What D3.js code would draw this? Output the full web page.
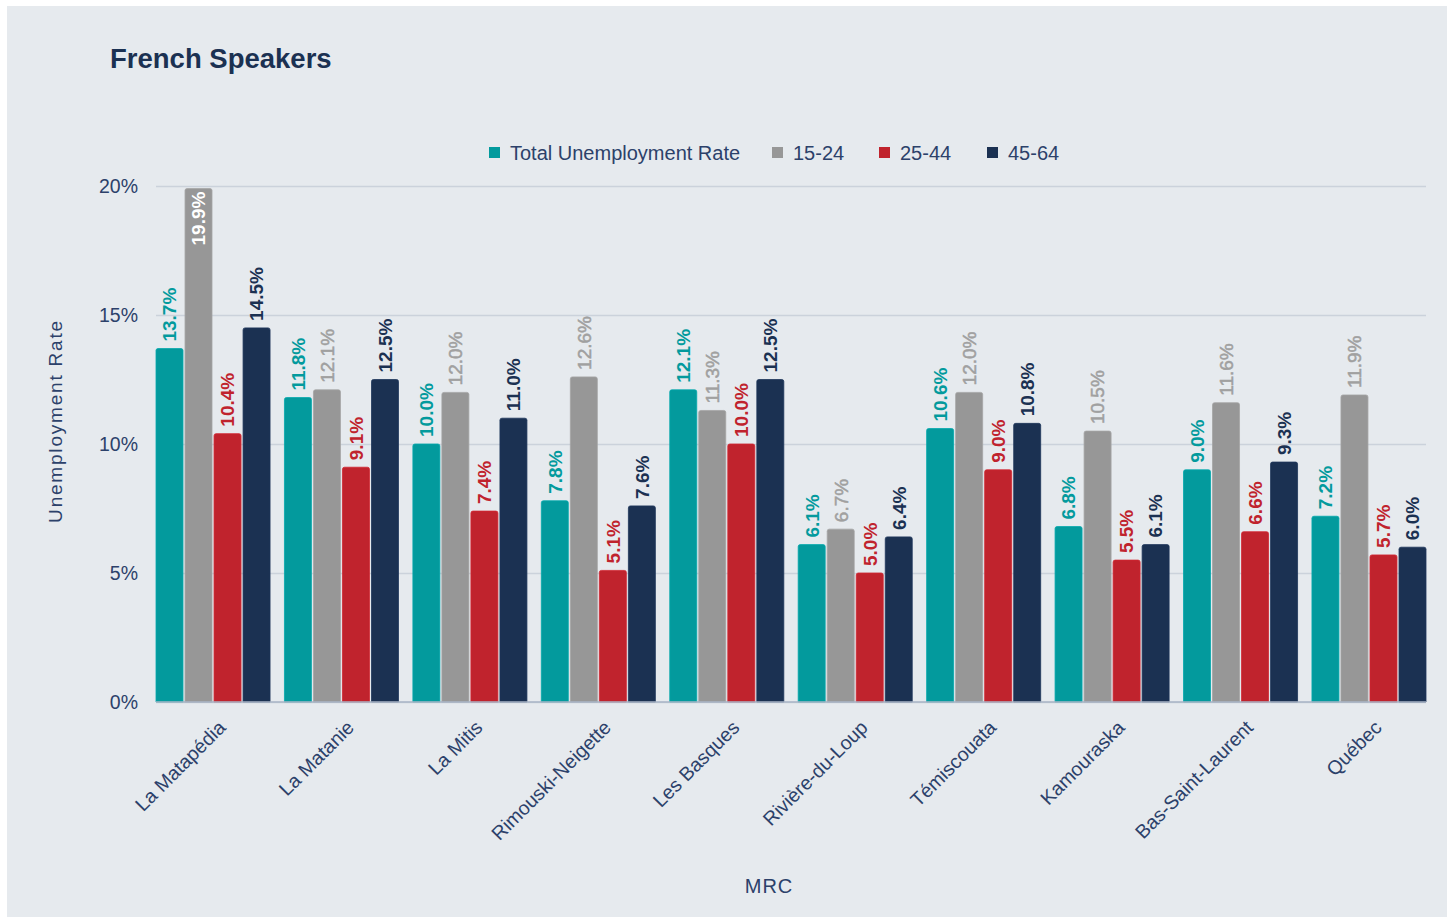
<!DOCTYPE html>
<html>
<head>
<meta charset="utf-8">
<script src="https://cdn.jsdelivr.net/npm/d3@7"></script>
<style>
  html, body { margin: 0; padding: 0; background: #ffffff; }
  svg { display: block; font-family: "Liberation Sans", Arimo, "Helvetica Neue", Helvetica, Arial, sans-serif; }
</style>
</head>
<body>
<svg id="chart" width="1448" height="917"></svg>
<script>
// Unemployment rate (%) of French speakers by MRC and age group
const categories = ["La Matapédia", "La Matanie", "La Mitis", "Rimouski-Neigette", "Les Basques",
  "Rivière-du-Loup", "Témiscouata", "Kamouraska", "Bas-Saint-Laurent", "Québec"];
const seriesNames = ["Total Unemployment Rate", "15-24", "25-44", "45-64"];
const totalRate = [13.7, 11.8, 10.0, 7.8, 12.1, 6.1, 10.6, 6.8, 9.0, 7.2];
const age15to24 = [19.9, 12.1, 12.0, 12.6, 11.3, 6.7, 12.0, 10.5, 11.6, 11.9];
const age25to44 = [10.4, 9.1, 7.4, 5.1, 10.0, 5.0, 9.0, 5.5, 6.6, 5.7];
const age45to64 = [14.5, 12.5, 11.0, 7.6, 12.5, 6.4, 10.8, 6.1, 9.3, 6.0];
const yTicks = [0, 5, 10, 15, 20];

const seriesValues = [totalRate, age15to24, age25to44, age45to64];
const colors = ["#039a9d", "#979797", "#c0232d", "#1b3152"];
const labelColors = ["#039a9d", "#a0a0a0", "#c0232d", "#1b3152"];
const labelWeights = ["bold", "normal", "bold", "bold"];
const textColor = "#2c416a";

const svg = d3.select("#chart");

// panel background
svg.append("rect").attr("x", 7).attr("y", 6).attr("width", 1440).attr("height", 911).attr("fill", "#e6eaee");

const plot = { left: 156, right: 1426, top: 186, bottom: 702 };

const x0 = d3.scaleBand().domain(categories).range([plot.left, plot.right])
  .paddingInner(0.112).paddingOuter(0);
const x1 = d3.scaleBand().domain(d3.range(seriesNames.length)).range([0, x0.bandwidth()])
  .paddingInner(0.07).paddingOuter(0);
const y = d3.scaleLinear().domain([0, 20]).range([plot.bottom, plot.top]);

// title
svg.append("text").attr("x", 110).attr("y", 68).attr("fill", "#1b3152")
  .attr("font-size", 27.5).attr("font-weight", "bold").text("French Speakers");

// gridlines + y axis labels
const yAxis = d3.axisLeft(y).tickValues(yTicks).tickFormat(d => d + "%").tickSize(-(plot.right - plot.left)).tickPadding(18);
const gy = svg.append("g").attr("transform", `translate(${plot.left},0)`).call(yAxis);
gy.select(".domain").remove();
gy.selectAll(".tick line").attr("stroke", "#cbd2db").attr("stroke-width", 1.3);
gy.selectAll(".tick text").attr("fill", textColor).attr("font-size", 19.5).attr("font-family", null);

// bars
const groups = svg.append("g").selectAll("g").data(categories).join("g")
  .attr("transform", d => `translate(${x0(d)},0)`);

groups.each(function (cat, ci) {
  const g = d3.select(this);
  seriesValues.forEach((vals, si) => {
    const v = vals[ci];
    const bx = x1(si), bw = x1.bandwidth();
    g.append("path")
      .attr("d", () => {
        const top = y(v), bot = y(0), r = 2;
        return `M${bx},${bot}V${top + r}Q${bx},${top} ${bx + r},${top}H${bx + bw - r}Q${bx + bw},${top} ${bx + bw},${top + r}V${bot}Z`;
      })
      .attr("fill", colors[si])
      .attr("stroke", d3.color(colors[si]).brighter(0.25))
      .attr("stroke-width", 0.8);

    // value label, rotated; placed inside the bar when it would overflow the plot
    const inside = y(v) - 60 < plot.top - 10;
    const cx = bx + bw / 2;
    const ly = inside ? y(v) + 3 : y(v) - 7;
    const t = g.append("text")
      .attr("transform", `translate(${cx},${ly}) rotate(-90)`)
      .attr("text-anchor", inside ? "end" : "start")
      .attr("dy", "0.36em")
      .attr("fill", inside ? "#ffffff" : labelColors[si])
      .attr("font-weight", inside ? "bold" : labelWeights[si])
      .attr("font-size", 19)
      .text(v.toFixed(1) + "%");
    if (!inside && labelWeights[si] === "normal") {
      t.attr("stroke", labelColors[si]).attr("stroke-width", 0.5);
    }
  });
});

// x axis line
svg.append("line").attr("x1", plot.left).attr("x2", plot.right).attr("y1", plot.bottom).attr("y2", plot.bottom)
  .attr("stroke", "#a9b4c6").attr("stroke-width", 1.5);

// category labels
const xAxis = d3.axisBottom(x0).tickSize(0).tickPadding(0);
const gx = svg.append("g").attr("transform", `translate(0,${plot.bottom})`).call(xAxis);
gx.select(".domain").remove();
gx.selectAll(".tick text")
  .attr("fill", textColor).attr("font-size", 19.5).attr("font-family", null)
  .attr("text-anchor", "end")
  .attr("transform", "translate(9,22) rotate(-45)")
  .attr("dy", "0.35em").attr("y", 0);

// axis titles
svg.append("text").attr("x", 769).attr("y", 893).attr("text-anchor", "middle")
  .attr("fill", textColor).attr("font-size", 20).attr("letter-spacing", 1).text("MRC");
svg.append("text").attr("transform", "translate(62,421) rotate(-90)").attr("text-anchor", "middle")
  .attr("fill", textColor).attr("font-size", 19).attr("letter-spacing", 1.8).text("Unemployment Rate");

// legend
const legendBoxX = [489, 772, 879, 987];
const legend = svg.append("g");
seriesNames.forEach((name, i) => {
  legend.append("rect").attr("x", legendBoxX[i]).attr("y", 147).attr("width", 11).attr("height", 11).attr("fill", colors[i]);
  legend.append("text").attr("x", legendBoxX[i] + 21).attr("y", 159.5).attr("fill", textColor)
    .attr("font-size", 20).text(name);
});
</script>
</body>
</html>
